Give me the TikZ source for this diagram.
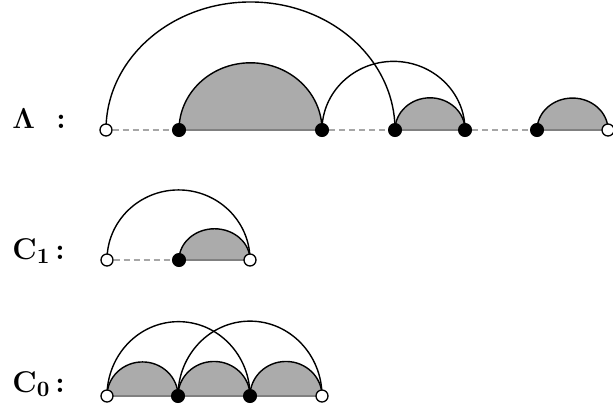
\documentclass[tikz,border=0pt]{standalone}
\usetikzlibrary{positioning, calc, backgrounds}

\begin{document}
\begin{tikzpicture}[
  x=0.5pt, y=0.5pt,
  fpt/.style={circle, draw, fill=black, inner sep=0pt, minimum size=6.6pt},
  opt/.style={circle, draw, fill=white, inner sep=0pt, minimum size=6pt, line width=0.65pt},
  arcline/.style={line width=0.7pt},
  lobe/.style={fill=black!33},
  gap/.style={draw=black!35, line width=0.9pt, dash pattern=on 3pt off 2pt},
  base/.style={draw=black!50, line width=0.6pt},
  lab/.style={anchor=base west, inner sep=0pt, font=\fontsize{15}{18}\selectfont\bfseries},
]
\useasboundingbox (0,0) rectangle (613,409);

% Lambda row
\node[opt] (l0) at (106,279) {};
\node[fpt] (l1) at (179,279) {};
\node[fpt] (l2) at (322,279) {};
\node[fpt] (l3) at (395,279) {};
\node[fpt] (l4) at (465,279) {};
\node[fpt] (l5) at (537,279) {};
\node[opt] (l6) at (608,279) {};
\node[lab] (lamlab) at (12,281) {$\mathbf{\Lambda}$\,\, :};

% C1 row
\node[opt] (a0) at (107,149) {};
\node[fpt] (a1) at (179,149) {};
\node[opt] (a2) at (250,149) {};
\node[lab] (c1lab) at (12,150) {C$_{\mathbf 1}$\,:};

% C0 row
\node[opt] (b0) at (107,13) {};
\node[fpt] (b1) at (178,13) {};
\node[fpt] (b2) at (250,13) {};
\node[opt] (b3) at (322,13) {};
\node[lab] (c0lab) at (12,17) {C$_{\mathbf 0}$\,:};

\begin{scope}[on background layer]
  % gray lobes
  \foreach \s/\t/\k in {l1/l2/0.47, l3/l4/0.46, l5/l6/0.45, a1/a2/0.44,
                        b0/b1/0.48, b1/b2/0.48, b2/b3/0.48} {
    \fill[lobe] let \p1=($(\t)-(\s)$) in (\s.center)
      arc[start angle=180, end angle=0, x radius=0.5*\x1, y radius=\k*\x1] -- cycle;
    \draw[arcline] let \p1=($(\t)-(\s)$) in (\s.center)
      arc[start angle=180, end angle=0, x radius=0.5*\x1, y radius=\k*\x1];
    \draw[base] (\s.center) -- (\t.center);
  }
  % dashed gaps
  \draw[gap] (l0) -- (l1);
  \draw[gap] (l2) -- (l3);
  \draw[gap] (l4) -- (l5);
  \draw[gap] (a0) -- (a1);
  % long arcs
  \foreach \s/\t/\k in {l0/l3/0.443, l2/l4/0.48, a0/a2/0.49, b0/b2/0.52, b1/b3/0.52} {
    \draw[arcline] let \p1=($(\t)-(\s)$) in (\s.center)
      arc[start angle=180, end angle=0, x radius=0.5*\x1, y radius=\k*\x1];
  }
\end{scope}

\end{tikzpicture}
\end{document}
